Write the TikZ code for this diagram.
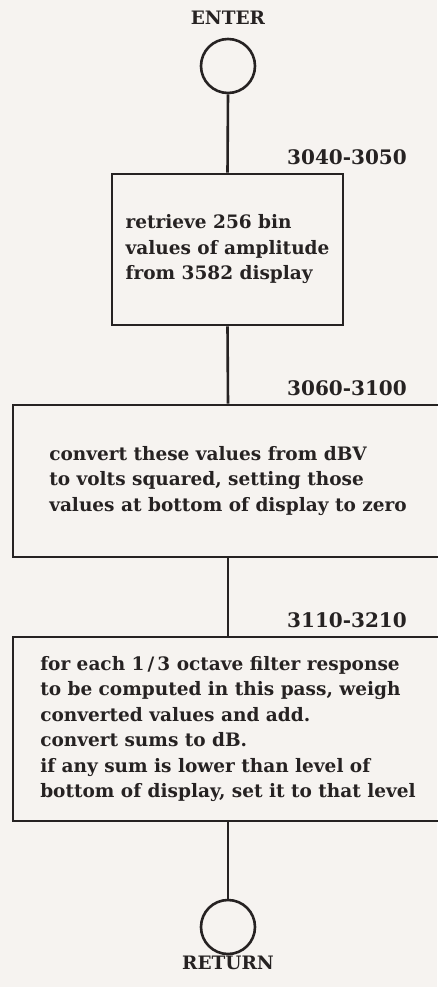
\documentclass[tikz,border=0pt]{standalone}
\usepackage{fontspec}
\setmainfont{DejaVu Serif}
\definecolor{paper}{RGB}{246,243,240}
\definecolor{ink}{RGB}{38,34,34}
\begin{document}
\begin{tikzpicture}[
        x=1pt, y=-1pt,
        font=\bfseries\fontsize{18.5}{25.5}\selectfont,
        process/.style={draw=ink, line width=2.6pt, align=left, inner sep=0pt, text=ink},
        terminal/.style={draw=ink, line width=2.6pt, circle, minimum size=54pt, inner sep=0pt},
        caption/.style={text=ink, inner sep=0pt},
        lineno/.style={text=ink, inner sep=0pt, anchor=east, font=\bfseries\fontsize{20}{24}\selectfont},
        flow/.style={draw=ink, line width=2.6pt}
    ]
        \useasboundingbox[fill=paper] (0,0) rectangle (437,987);

        % Eingang.
        \node[caption] (entertext) at (228,18) {ENTER};
        \node[terminal] (enter) at (228,66) {};

        % Schritt 1.
        \node[lineno] (no1) at (407,157) {3040-3050};
        \node[process, minimum width=231pt, minimum height=151pt] (retrieve) at (227.5,249.5)
            {retrieve 256 bin\\values of amplitude\\from 3582 display};

        % Schritt 2.
        \node[lineno] (no2) at (407,388) {3060-3100};
        \node[process, minimum width=430pt, minimum height=152pt] (convert) at (228,481)
            {convert these values from dBV\\to volts squared, setting those\\values at bottom of display to zero};

        % Schritt 3.
        \node[lineno] (no3) at (407,620) {3110-3210};
        \node[process, minimum width=430pt, minimum height=184pt] (weigh) at (228,729)
            {for each 1\,/\,3 octave filter response\\to be computed in this pass, weigh\\converted values and add.\\convert sums to dB.\\if any sum is lower than level of\\bottom of display, set it to that level};

        % Ausgang.
        \node[terminal] (return) at (228,927) {};
        \node[caption] (returntext) at (228,963) {RETURN};

        % Verbindungen.
        \draw[flow] (enter.south) -- (retrieve.north);
        \draw[flow] (retrieve.south) -- (convert.north);
        \draw[flow] (convert.south) -- (weigh.north);
        \draw[flow] (weigh.south) -- (return.north);
    \end{tikzpicture}
\end{document}
